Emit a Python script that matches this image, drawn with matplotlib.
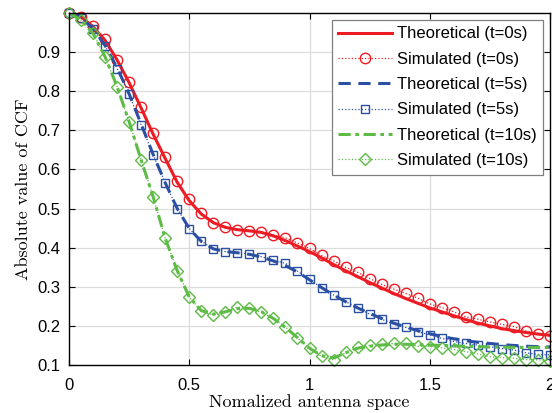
import numpy as np
import matplotlib
matplotlib.use("Agg")
import matplotlib.pyplot as plt

# ======================
# data
# ======================
x = np.round(np.arange(0, 2.0001, 0.05), 2)

theo_t0 = [1.0, 0.99, 0.965, 0.93, 0.88, 0.822, 0.757, 0.69, 0.628, 0.567,
           0.52, 0.486, 0.464, 0.452, 0.446, 0.443, 0.439, 0.43, 0.418, 0.404,
           0.39, 0.374, 0.357, 0.341, 0.326, 0.311, 0.297, 0.283, 0.27, 0.258,
           0.246, 0.236, 0.226, 0.216, 0.207, 0.2, 0.193, 0.188, 0.183, 0.179, 0.176]
sim_t0 = [1.0, 0.99, 0.967, 0.933, 0.88, 0.824, 0.759, 0.692, 0.631, 0.57,
          0.524, 0.488, 0.464, 0.452, 0.445, 0.443, 0.439, 0.433, 0.425, 0.412,
          0.398, 0.38, 0.366, 0.35, 0.337, 0.321, 0.306, 0.294, 0.283, 0.271,
          0.256, 0.247, 0.236, 0.223, 0.217, 0.21, 0.204, 0.198, 0.187, 0.18, 0.174]

theo_t5 = [1.0, 0.988, 0.96, 0.917, 0.86, 0.793, 0.716, 0.638, 0.566, 0.5,
           0.449, 0.416, 0.397, 0.39, 0.387, 0.383, 0.376, 0.366, 0.354, 0.338,
           0.318, 0.298, 0.279, 0.262, 0.246, 0.232, 0.219, 0.207, 0.197, 0.188,
           0.18, 0.173, 0.167, 0.162, 0.158, 0.155, 0.152, 0.15, 0.148, 0.147, 0.146]
sim_t5 = [1.0, 0.988, 0.96, 0.916, 0.858, 0.792, 0.714, 0.637, 0.566, 0.5,
          0.449, 0.417, 0.396, 0.39, 0.387, 0.384, 0.377, 0.368, 0.36, 0.34,
          0.319, 0.298, 0.279, 0.262, 0.247, 0.23, 0.217, 0.205, 0.196, 0.185,
          0.177, 0.168, 0.16, 0.155, 0.151, 0.147, 0.142, 0.138, 0.131, 0.127, 0.126]

theo_t10 = [1.0, 0.982, 0.948, 0.888, 0.812, 0.722, 0.624, 0.53, 0.424, 0.341,
            0.274, 0.239, 0.23, 0.236, 0.244, 0.245, 0.236, 0.219, 0.196, 0.17,
            0.143, 0.124, 0.118, 0.131, 0.143, 0.148, 0.151, 0.153, 0.153, 0.152,
            0.151, 0.15, 0.149, 0.148, 0.147, 0.146, 0.146, 0.145, 0.145, 0.145, 0.145]
sim_t10 = [1.0, 0.982, 0.948, 0.888, 0.812, 0.722, 0.624, 0.53, 0.424, 0.341,
           0.274, 0.237, 0.228, 0.236, 0.248, 0.246, 0.235, 0.219, 0.197, 0.169,
           0.143, 0.122, 0.113, 0.132, 0.145, 0.15, 0.153, 0.155, 0.155, 0.148,
           0.147, 0.144, 0.14, 0.134, 0.128, 0.121, 0.119, 0.117, 0.114, 0.113, 0.111]

RED = "#ED1C24"
BLUE = "#2B4FA3"
GREEN = "#5DBB46"

# ======================
# plot
# ======================
fig = plt.figure(figsize=(5.52, 4.13), dpi=100)
ax = fig.add_axes([69 / 552, 48 / 413, 481 / 552, 352 / 413])

ax.plot(x, theo_t0, "-", color=RED, lw=2.2, label="Theoretical (t=0s)")
ax.plot(x, sim_t0, ":", color=RED, lw=0.9, marker="o", ms=7.5, mfc="none",
        mew=1.0, label="Simulated (t=0s)", clip_on=False)
ax.plot(x, theo_t5, "--", color=BLUE, lw=2.2, dashes=(4, 2.5), label="Theoretical (t=5s)")
ax.plot(x, sim_t5, ":", color=BLUE, lw=0.9, marker="s", ms=6, mfc="none",
        mew=1.0, label="Simulated (t=5s)", clip_on=False)
ax.plot(x, theo_t10, "-.", color=GREEN, lw=2.2, dashes=(4, 1.5, 1.2, 1.5), label="Theoretical (t=10s)")
ax.plot(x, sim_t10, ":", color=GREEN, lw=0.9, marker="D", ms=6, mfc="none",
        mew=1.0, label="Simulated (t=10s)", clip_on=False)

ax.set_xlim(0, 2)
ax.set_ylim(0.1, 1.0)
ax.set_xticks([0, 0.5, 1, 1.5, 2])
ax.set_xticklabels(["0", "0.5", "1", "1.5", "2"])
ax.set_yticks(np.round(np.arange(0.1, 0.95, 0.1), 1))
ax.tick_params(direction="in", top=True, right=True, length=4, labelsize=12)
ax.tick_params(axis="x", pad=9)
ax.tick_params(axis="y", pad=6)
for lab in ax.get_xticklabels() + ax.get_yticklabels():
    lab.set_fontfamily("Liberation Sans")
ax.grid(True, color="#DCDCDC", lw=0.9)
ax.set_axisbelow(True)
for s in ax.spines.values():
    s.set_linewidth(1.0)

ax.set_xlabel("Nomalized antenna space", fontfamily="cmr10", fontsize=13, labelpad=1)
ax.set_ylabel("Absolute value of CCF", fontfamily="cmr10", fontsize=13, labelpad=5)

leg = ax.legend(loc="upper right", prop={"family": "Liberation Sans", "size": 12},
                handlelength=3.2, handletextpad=0.3, borderpad=0.4, labelspacing=0.62,
                borderaxespad=0, fancybox=False, framealpha=1, edgecolor="#7F7F7F",
                bbox_to_anchor=(0.9854, 0.981))
leg.get_frame().set_linewidth(0.9)

fig.savefig("out.png", dpi=100)
